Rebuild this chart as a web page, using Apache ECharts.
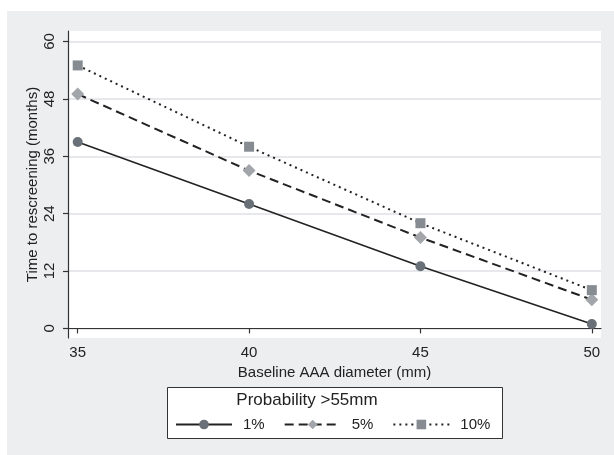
<!DOCTYPE html>
<html>
<head>
<meta charset="utf-8">
<script src="https://cdn.jsdelivr.net/npm/echarts@6/dist/echarts.min.js"></script>
<style>
  html, body { margin: 0; padding: 0; background: #fff; }
  #chart { width: 614px; height: 455px; }
</style>
</head>
<body>
<div id="chart"></div>
<script>
// baseline diameter (mm)
const diameters = [35, 40, 45, 50]
// time to rescreening (months) by probability of reaching 55mm
const prob1 = [39, 26, 13, 0.9]
const prob5 = [49, 33, 19, 6]
const prob10 = [55, 38, 22, 8]
const xTicks = [35, 40, 45, 50]
const yTicks = [0, 12, 24, 36, 48, 60]

const font = "'Liberation Sans', Arial, sans-serif"
const toPairs = vals => vals.map((v, i) => [diameters[i], v])

const chart = echarts.init(document.getElementById('chart'), null, { renderer: 'canvas' })

const option = {
  backgroundColor: '#fff',
  animation: false,
  textStyle: { fontFamily: font },
  graphic: [
    {
      type: 'rect',
      z: -10,
      shape: { x: 7, y: 11, width: 607, height: 444 },
      style: { fill: '#eceef0' }
    },
    {
      // legend frame
      type: 'rect',
      z: 1,
      shape: { x: 167.5, y: 387.5, width: 335, height: 51 },
      style: { fill: '#fff', stroke: '#333', lineWidth: 1 }
    }
  ],
  title: {
    text: 'Probability >55mm',
    left: 'center',
    top: 392,
    z: 6,
    textStyle: { fontFamily: font, fontSize: 17, fontWeight: 'normal', color: '#222' },
    padding: 0
  },
  legend: {
    left: 175,
    top: 417,
    z: 5,
    itemWidth: 56,
    itemHeight: 12,
    itemGap: 19,
    padding: 0,
    textStyle: { fontFamily: font, fontSize: 15, color: '#222', padding: [0, 0, 0, 6] },
    data: ['1%', '5%', '10%']
  },
  grid: {
    left: 68,
    right: 13,
    top: 31,
    bottom: 117,
    show: true,
    backgroundColor: '#fff',
    borderWidth: 0
  },
  xAxis: {
    type: 'value',
    min: 34.717,
    max: 50.268,
    name: 'Baseline AAA diameter (mm)',
    nameLocation: 'middle',
    nameGap: 27,
    nameMoveOverlap: false,
    nameTextStyle: { fontFamily: font, fontSize: 15, color: '#222' },
    axisLine: { show: true, lineStyle: { color: '#333', width: 1.2 } },
    axisTick: { show: true, length: 5, customValues: xTicks, lineStyle: { color: '#333', width: 1.2 } },
    axisLabel: { customValues: xTicks, fontFamily: font, fontSize: 15, color: '#222', margin: 7 },
    splitLine: { show: false }
  },
  yAxis: {
    type: 'value',
    min: -2.01,
    max: 62.2,
    name: 'Time to rescreening (months)',
    nameLocation: 'middle',
    nameRotate: 90,
    nameGap: 28,
    nameMoveOverlap: false,
    nameTextStyle: { fontFamily: font, fontSize: 15, color: '#222' },
    axisLine: { show: true, lineStyle: { color: '#333', width: 1.2 } },
    axisTick: { show: true, length: 5, customValues: yTicks, lineStyle: { color: '#333', width: 1.2 } },
    axisLabel: { customValues: yTicks, rotate: 90, fontFamily: font, fontSize: 15, color: '#222', margin: 11 },
    splitLine: { show: true, lineStyle: { color: '#e6e8eb', width: 2 } }
  },
  series: [
    {
      name: '1%',
      type: 'line',
      data: toPairs(prob1),
      symbol: 'circle',
      symbolSize: 10,
      itemStyle: { color: '#6a7077' },
      lineStyle: { color: '#222', width: 1.6, type: 'solid' }
    },
    {
      name: '5%',
      type: 'line',
      data: toPairs(prob5),
      symbol: 'diamond',
      symbolSize: 13,
      itemStyle: { color: '#a2a6ab' },
      lineStyle: { color: '#222', width: 2, type: [9, 5] }
    },
    {
      name: '10%',
      type: 'line',
      data: toPairs(prob10),
      symbol: 'rect',
      symbolSize: 10,
      itemStyle: { color: '#878c93' },
      lineStyle: { color: '#222', width: 2, type: [2, 4] }
    }
  ]
}

chart.setOption(option)
</script>
</body>
</html>
